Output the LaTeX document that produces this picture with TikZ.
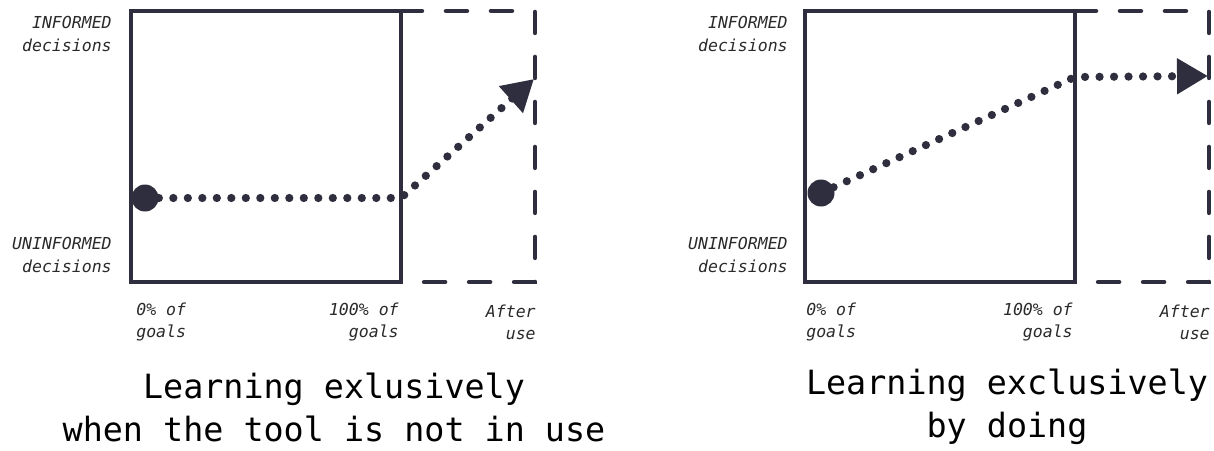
\documentclass[tikz,border=0pt]{standalone}
\usepackage{fontspec}
\usetikzlibrary{arrows.meta}
\newfontfamily\capfont{DejaVu Sans Mono}
\newfontfamily\labfont{DejaVu Sans Mono}
\definecolor{ink}{HTML}{2F2E3E}
\definecolor{txt}{HTML}{2A2A2A}
\tikzset{
	frame/.style={draw=ink, line width=0.09cm},
	frameext/.style={frame, line cap=round, dash pattern=on 0.42cm off 0.48cm},
	trail/.style={draw=ink, line width=0.165cm, line cap=round, dash pattern=on 0pt off 0.29cm, -{Triangle[length=0.62cm,width=0.68cm]}},
	startdot/.style={circle, fill=ink, inner sep=0pt, minimum size=0.54cm},
	axislab/.style={font={\labfont\itshape\fontsize{9.4}{12.7}\selectfont}, text=txt, inner sep=0pt},
	caption/.style={font={\capfont\fontsize{19}{24.5}\selectfont}, align=center, text=black, inner sep=0pt}
}

\begin{document}
\begin{tikzpicture}[x=0.02cm, y=-0.02cm]
	\useasboundingbox (0,0) rectangle (1214,450);
	% left panel
	\draw[frame] (131,11) rectangle (401,282);
	\draw[frameext] (401,11) -- (535,11) -- (535,282) -- (401,282);
	\node[axislab, anchor=east, align=right] (inf1) at (112,34) {INFORMED\\decisions};
	\node[axislab, anchor=east, align=right] (uninf1) at (112,255) {UNINFORMED\\decisions};
	\node[axislab, anchor=west, align=left] (zero1) at (136,322) {0\% of\\goals};
	\node[axislab, anchor=east, align=right] (full1) at (399,322) {100\% of\\goals};
	\node[axislab, anchor=east, align=right] (after1) at (536,322) {After\\use};
	\node[startdot] (s1) at (145,198) {};
	\coordinate (k1) at (401,198);
	\coordinate (e1) at (534,79);
	\draw[trail] (s1) -- (k1) -- (e1);
	\node[caption] (cap1) at (334,407) {Learning exlusively\\when the tool is not in use};
	% right panel
	\begin{scope}[xshift=674*0.02cm]
		\draw[frame] (131,11) rectangle (401,282);
		\draw[frameext] (401,11) -- (535,11) -- (535,282) -- (401,282);
		\node[axislab, anchor=east, align=right] (inf2) at (114,34) {INFORMED\\decisions};
		\node[axislab, anchor=east, align=right] (uninf2) at (114,255) {UNINFORMED\\decisions};
		\node[axislab, anchor=west, align=left] (zero2) at (132,322) {0\% of\\goals};
		\node[axislab, anchor=east, align=right] (full2) at (399,322) {100\% of\\goals};
		\node[axislab, anchor=east, align=right] (after2) at (536,322) {After\\use};
		\node[startdot] (s2) at (147,193) {};
		\coordinate (k2) at (401,77);
		\coordinate (e2) at (534,76);
		\draw[trail] (s2) -- (k2) -- (e2);
		\node[caption] (cap2) at (333,407) {Learning exclusively\\by doing};
	\end{scope}
\end{tikzpicture}
\end{document}
